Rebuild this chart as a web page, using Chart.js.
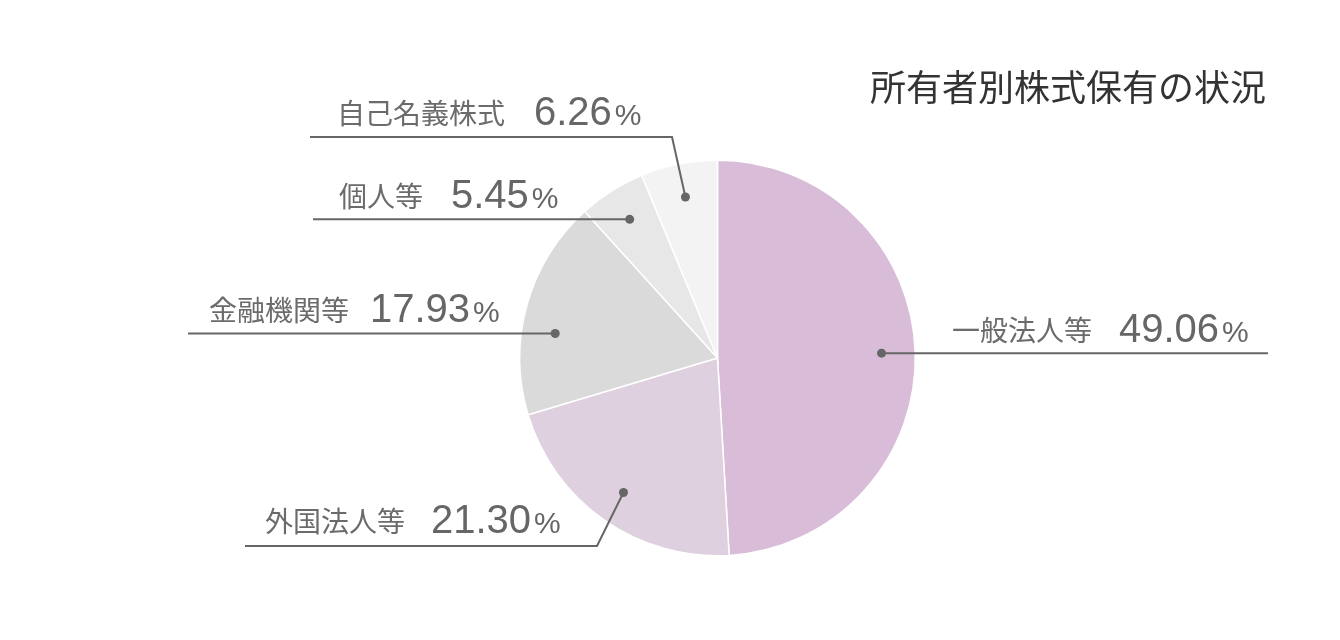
<!DOCTYPE html>
<html lang="ja">
<head>
<meta charset="UTF-8">
<title>所有者別株式保有の状況</title>
<style>
  html, body { margin: 0; padding: 0; background: #fff; }
  #wrap { width: 1340px; height: 640px; }
</style>
</head>
<body>
<div id="wrap"><canvas id="myChart" width="1340" height="640"></canvas></div>

<script src="https://cdn.jsdelivr.net/npm/chart.js"></script>
<script>
// data
const labels = ["一般法人等", "外国法人等", "金融機関等", "個人等", "自己名義株式"];
const values = [49.06, 21.30, 17.93, 5.45, 6.26];
const colors = ["#d8bcd8", "#dfd0e0", "#dadada", "#e7e7e7", "#f3f3f3"];
const title = "所有者別株式保有の状況";

// callout layout per slice (elbow = optional bend point, endX = end of horizontal rule)
const callouts = [
    { shift: 0,  elbow: null,       endX: 1268, labelX: 952, numX: 1119, baseY: 341 },
    { shift: 0,  elbow: [597, 546], endX: 245,  labelX: 265, numX: 431,  baseY: 532 },
    { shift: -7, elbow: null,       endX: 188,  labelX: 209, numX: 370,  baseY: 321 },
    { shift: 0,  elbow: null,       endX: 313,  labelX: 339, numX: 451,  baseY: 207 },
    { shift: 0,  elbow: [672, 137], endX: 310,  labelX: 337, numX: 534,  baseY: 124 }
];

const jpFont = '"Noto Sans CJK JP", "Noto Sans", sans-serif';
const numFont = '"Liberation Sans", Arial, sans-serif';

const calloutPlugin = {
    id: "callouts",
    afterDatasetsDraw(chart) {
        const ctx = chart.ctx;
        const meta = chart.getDatasetMeta(0);
        ctx.save();
        meta.data.forEach((arc, i) => {
            const c = callouts[i];
            const mid = (arc.startAngle + arc.endAngle) / 2 + c.shift * Math.PI / 180;
            const r = arc.outerRadius * 0.83;
            const px = arc.x + Math.cos(mid) * r;
            const py = arc.y + Math.sin(mid) * r;

            ctx.strokeStyle = "#666";
            ctx.lineWidth = 2;
            ctx.beginPath();
            ctx.moveTo(px, py);
            let y = py;
            if (c.elbow) {
                ctx.lineTo(c.elbow[0], c.elbow[1]);
                y = c.elbow[1];
            }
            ctx.lineTo(c.endX, y);
            ctx.stroke();

            ctx.fillStyle = "#666";
            ctx.beginPath();
            ctx.arc(px, py, 4.5, 0, Math.PI * 2);
            ctx.fill();

            ctx.textBaseline = "alphabetic";
            ctx.textAlign = "left";
            ctx.fillStyle = "#6b6b6b";
            ctx.font = "28px " + jpFont;
            ctx.fillText(labels[i], c.labelX, c.baseY);

            ctx.fillStyle = "#666";
            ctx.font = "40px " + numFont;
            const num = values[i].toFixed(2);
            ctx.fillText(num, c.numX, c.baseY + 1);
            const w = ctx.measureText(num).width;
            ctx.font = "30px " + numFont;
            ctx.fillText("%", c.numX + w + 3, c.baseY + 1);
        });

        ctx.fillStyle = "#333";
        ctx.font = "36px " + jpFont;
        ctx.textAlign = "right";
        ctx.fillText(title, 1266, 101);
        ctx.restore();
    }
};

const ctx = document.getElementById("myChart");

new Chart(ctx, {
    type: "pie",
    data: {
        labels: labels,
        datasets: [{
            data: values,
            backgroundColor: colors,
            borderColor: "#ffffff",
            borderWidth: 1.5
        }]
    },
    options: {
        responsive: false,
        animation: false,
        devicePixelRatio: 1,
        layout: {
            padding: { left: 519, top: 159, right: 424, bottom: 83 }
        },
        plugins: {
            legend: { display: false },
            tooltip: { enabled: false }
        }
    },
    plugins: [calloutPlugin]
});
</script>
</body>
</html>
